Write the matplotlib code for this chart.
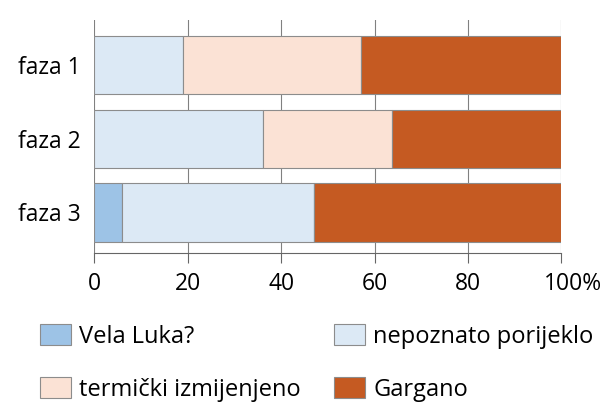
import matplotlib.pyplot as plt
from matplotlib.patches import Patch

plt.rcParams['font.family'] = ['Open Sans', 'DejaVu Sans']

# podaci (postotci)
faze = ['faza 1', 'faza 2', 'faza 3']
vela_luka = [0, 0, 6]
nepoznato = [19, 36.2, 41]
termicki = [38, 27.5, 0]
gargano = [43, 36.3, 53]

serije = ['Vela Luka?', 'nepoznato porijeklo', 'termički izmijenjeno', 'Gargano']
boje = ['#9dc3e6', '#dce9f5', '#fbe2d5', '#c55a22']
tick_vals = [0, 20, 40, 60, 80, 100]
tick_txt = ['0', '20', '40', '60', '80', '']

fig = plt.figure(figsize=(6.05, 4.09), dpi=100)
ax = fig.add_axes([0.156, 0.3814, 0.772, 0.5696])

y = list(range(len(faze)))
lijevo = [0, 0, 0]
for vals, boja in zip([vela_luka, nepoznato, termicki, gargano], boje):
    ax.barh(y, vals, left=lijevo, height=0.79, color=boja,
            edgecolor='#8c8c8c', linewidth=0.8, zorder=3)
    lijevo = [a + b for a, b in zip(lijevo, vals)]

ax.set_xlim(0, 100)
ax.set_ylim(2.55, -0.61)
ax.set_yticks(y)
ax.set_yticklabels(faze, fontsize=16.5)
ax.set_xticks(tick_vals)
ax.set_xticklabels(tick_txt, fontsize=16.5)
ax.tick_params(axis='y', length=0, pad=10)
ax.tick_params(axis='x', length=7, width=0.8, color='#666666', pad=7)
# "100%": broj centriran na crticu, znak % viri desno
ax.annotate('100%', xy=(100, 0), xycoords=('data', 'axes fraction'),
            xytext=(-12.5, -14), textcoords='offset points',
            ha='left', va='top', fontsize=16.5)
ax.grid(axis='x', color='#808080', linewidth=0.8, zorder=0)
for s in ['top', 'right', 'left']:
    ax.spines[s].set_visible(False)
ax.spines['bottom'].set_color('#666666')
ax.spines['bottom'].set_linewidth(0.8)

# legenda u dva stupca
kw = dict(frameon=False, fontsize=17, handlelength=1.31, handleheight=1.02,
          handletextpad=0.36, labelspacing=1.19, borderpad=0, borderaxespad=0,
          loc='upper left')
h = [Patch(facecolor=b, edgecolor='#8c8c8c', linewidth=0.8) for b in boje]
fig.legend([h[0], h[2]], [serije[0], serije[2]],
           bbox_to_anchor=(40 / 605, 1 - 324 / 409), **kw)
fig.legend([h[1], h[3]], [serije[1], serije[3]],
           bbox_to_anchor=(334 / 605, 1 - 324 / 409), **kw)

fig.savefig('out.png', dpi=100, facecolor='white')
